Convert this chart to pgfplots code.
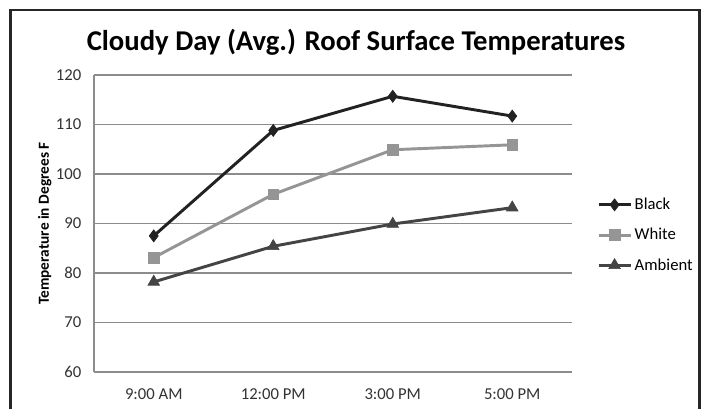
\documentclass[border=0pt]{standalone}
\usepackage{pgfplots}
\pgfplotsset{compat=1.18}
\usepackage{fontspec}
\setmainfont{Carlito}
\definecolor{cblack}{HTML}{222222}
\definecolor{cwhite}{HTML}{959595}
\definecolor{camb}{HTML}{444444}
\definecolor{gridc}{HTML}{8C8C8C}
\begin{document}
\begin{tikzpicture}
\useasboundingbox (0,0) rectangle (530.25pt,306pt);
\fill[white] (0,0) rectangle (530.25pt,306pt);
\draw[line width=1.8pt,black!85] (8pt,-5pt) rectangle (524.5pt,298.5pt);
\node[font=\bfseries\fontsize{21.5}{26}\selectfont] at (267pt,274.5pt) {Cloudy Day (Avg.) Roof Surface Temperatures};
\begin{axis}[
  at={(70.5pt,27pt)}, anchor=south west,
  scale only axis, width=358.5pt, height=222.75pt,
  xmin=-0.5, xmax=3.5, ymin=60, ymax=120,
  xtick={0,1,2,3}, xticklabels={9:00 AM,12:00 PM,3:00 PM,5:00 PM},
  ytick={60,70,...,120},
  ymajorgrids, grid style={gridc, line width=0.8pt},
  axis x line*=bottom, axis y line*=left,
  axis line style={gridc, line width=0.9pt},
  major tick length=0pt,
  tick label style={font=\fontsize{12.5}{14}\selectfont, text=black!80},
  xticklabel style={yshift=-9pt},
  yticklabel style={xshift=-6pt},
  /pgf/number format/assume math mode=true,
  ylabel={\bfseries Temperature in Degrees F},
  ylabel style={font=\fontsize{11.5}{13}\selectfont},
  ylabel shift=-3.5pt,
  legend style={draw=none, at={(rel axis cs:1.052,0.461)}, anchor=west, inner sep=0pt,
    font=\fontsize{12.5}{14}\selectfont, row sep=8.5pt, fill=none},
  legend cell align=left,
  legend image code/.code={\draw[#1] (0pt,0pt) -- (24pt,0pt); \draw[#1, mark repeat=2, mark phase=2] plot coordinates {(0pt,0pt) (12pt,0pt) (24pt,0pt)};},
  clip=false,
]
\addplot[cblack, line width=2.2pt, mark=diamond*, mark size=4.5pt, mark options={solid, line width=0.5pt}] coordinates {(0,87.5) (1,108.8) (2,115.7) (3,111.7)};
\addlegendentry{Black}
\addplot[cwhite, line width=2.2pt, mark=square*, mark size=4pt, mark options={solid, line width=0.5pt}] coordinates {(0,83.1) (1,95.9) (2,104.9) (3,105.9)};
\addlegendentry{White}
\addplot[camb, line width=2.2pt, mark=triangle*, mark size=5pt, mark options={solid, line width=0.5pt}] coordinates {(0,78.2) (1,85.4) (2,89.9) (3,93.2)};
\addlegendentry{Ambient}
\end{axis}
\end{tikzpicture}
\end{document}
